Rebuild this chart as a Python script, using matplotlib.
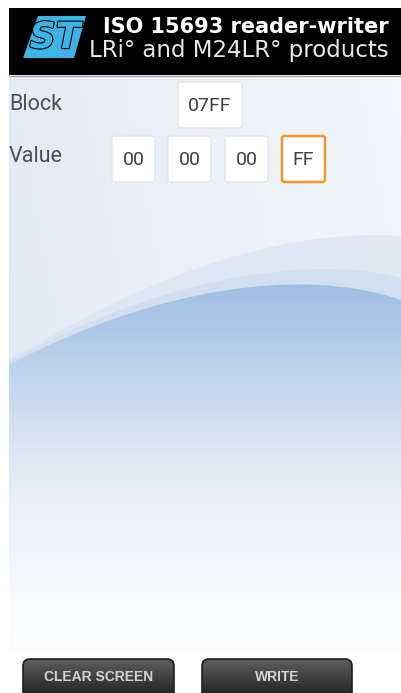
import numpy as np
import matplotlib
matplotlib.use("Agg")
import matplotlib.pyplot as plt
from matplotlib.patches import Rectangle, Polygon, FancyBboxPatch, PathPatch
from matplotlib.path import Path
import matplotlib.patheffects as pe
from matplotlib.colors import to_rgb

# screen content
title_line1 = "ISO 15693 reader-writer"
title_line2 = "LRi\u00b0 and M24LR\u00b0 products"
block_label = "Block"
block_value = "07FF"
value_label = "Value"
value_bytes = ["00", "00", "00", "FF"]
active_byte = 3
button_labels = ["CLEAR SCREEN", "WRITE"]

W, H = 401, 693
fig = plt.figure(figsize=(W / 100, H / 100), dpi=100)
ax = fig.add_axes([0, 0, 1, 1])
ax.set_xlim(0, W)
ax.set_ylim(H, 0)
ax.axis("off")
fig.patch.set_facecolor("white")

def lerp_img(c_top, c_bot, c_left=None, c_right=None, n=200):
    # vertical gradient image, optionally mixed with a horizontal one
    t = np.linspace(0, 1, n)[:, None, None]
    a = np.array(to_rgb(c_top))[None, None, :]
    b = np.array(to_rgb(c_bot))[None, None, :]
    img = a * (1 - t) + b * t
    img = np.repeat(img, n, axis=1)
    if c_left is not None:
        s = np.linspace(0, 1, n)[None, :, None]
        l = np.array(to_rgb(c_left))[None, None, :]
        r = np.array(to_rgb(c_right))[None, None, :]
        img = 0.5 * img + 0.5 * (l * (1 - s) + r * s)
    return img

# panel background
panel = Rectangle((9, 75), W - 9, 579, facecolor="none", edgecolor="none")
ax.add_patch(panel)
im = ax.imshow(lerp_img("#edf2fa", "#e4ecf7", "#dce6f4", "#fafbfd"),
               extent=(9, W, 654, 75), aspect="auto", zorder=0)
im.set_clip_path(panel)

def wave(p0, p1, p2, p3, bottom=654):
    verts = [p0, p1, p2, p3, (W, bottom), (9, bottom), p0]
    codes = [Path.MOVETO, Path.CURVE4, Path.CURVE4, Path.CURVE4,
             Path.LINETO, Path.LINETO, Path.CLOSEPOLY]
    return Path(verts, codes)

band1 = PathPatch(wave((9, 360), (150, 275), (280, 228), (W, 236)),
                  facecolor="#d9e5f3", edgecolor="none", alpha=0.75, zorder=1)
ax.add_patch(band1)
band2 = PathPatch(wave((9, 362), (150, 283), (300, 252), (W, 278)),
                  facecolor="#cddcef", edgecolor="none", alpha=0.75, zorder=2)
ax.add_patch(band2)

main = PathPatch(wave((9, 365), (150, 290), (300, 265), (W, 300)),
                 facecolor="none", edgecolor="none", zorder=3)
ax.add_patch(main)
# vertical gradient for the blue area
stops_y = [270, 330, 400, 450, 520, 600, 654]
stops_c = ["#9bbbe2", "#afc8e9", "#c9daef", "#dde7f4", "#edf2fa", "#f9fbfd", "#fdfdfe"]
rows = np.arange(270, 655)
grad = np.zeros((len(rows), 2, 3))
for k in range(3):
    grad[:, :, k] = np.interp(rows, stops_y, [to_rgb(c)[k] for c in stops_c])[:, None]
im2 = ax.imshow(grad, extent=(9, W, 654, 270), aspect="auto", zorder=3)
im2.set_clip_path(main)

# header
ax.add_patch(Rectangle((9, 8), W - 9, 67, facecolor="black", edgecolor="none", zorder=5))
ax.plot([9, W], [75.5, 75.5], color="#9a9a9a", lw=0.8, zorder=5)
ax.add_patch(Polygon([(38, 16), (86, 16), (74, 58), (23, 58)],
                     closed=True, facecolor="#3cb4e6", edgecolor="none", zorder=6))
ax.text(55, 38, "ST", color="#3cb4e6", fontsize=26, fontweight="bold",
        fontstyle="italic", family="DejaVu Sans", ha="center", va="center", zorder=7,
        path_effects=[pe.withStroke(linewidth=1.6, foreground="black")])
ax.text(389, 27, title_line1, color="white", fontsize=15, fontweight="bold",
        family="DejaVu Sans", ha="right", va="center", zorder=7)
ax.text(389, 51, title_line2, color="#e8e8e8", fontsize=16.5,
        family="DejaVu Sans", ha="right", va="center", zorder=7)

# form
txt_col = "#505050"
ax.text(9, 105, block_label, color=txt_col, fontsize=15.5, family="Roboto",
        ha="left", va="center", zorder=7)
ax.text(9, 157, value_label, color=txt_col, fontsize=15.5, family="Roboto",
        ha="left", va="center", zorder=7)

def field(x0, x1, y0, y1, label, active=False):
    ec = "#f29530" if active else "#e6e6e6"
    lw = 1.8 if active else 1.0
    ax.add_patch(FancyBboxPatch((x0, y0), x1 - x0, y1 - y0,
                                boxstyle="round,pad=0,rounding_size=2.5",
                                facecolor="white", edgecolor=ec, lw=lw, zorder=8))
    ax.text((x0 + x1) / 2, (y0 + y1) / 2 + 1, label, color="#404040", fontsize=14,
            family="Roboto", ha="center", va="center", zorder=9)

field(178, 242, 82, 128, block_value)
box_x = [112, 168, 225, 282]
for i, b in enumerate(value_bytes):
    field(box_x[i], box_x[i] + 43, 136, 182, b, active=(i == active_byte))

# buttons
btn_x = [(23, 174), (202, 352)]
for (x0, x1), lab in zip(btn_x, button_labels):
    bp = FancyBboxPatch((x0, 659), x1 - x0, 48,
                        boxstyle="round,pad=0,rounding_size=7",
                        facecolor="none", edgecolor="#1e1e1e", lw=1.2, zorder=11)
    ax.add_patch(bp)
    bimg = lerp_img("#5e5e5e", "#1c1c1c")
    bi = ax.imshow(bimg, extent=(x0, x1, 700, 659), aspect="auto", zorder=10)
    bi.set_clip_path(bp)
    ax.text((x0 + x1) / 2, 677, lab, color="#d2d2d2", fontsize=10, fontweight="bold",
            family="Liberation Sans", ha="center", va="center", zorder=12)

ax.set_xlim(0, W)
ax.set_ylim(H, 0)
fig.savefig("out.png", dpi=100)
